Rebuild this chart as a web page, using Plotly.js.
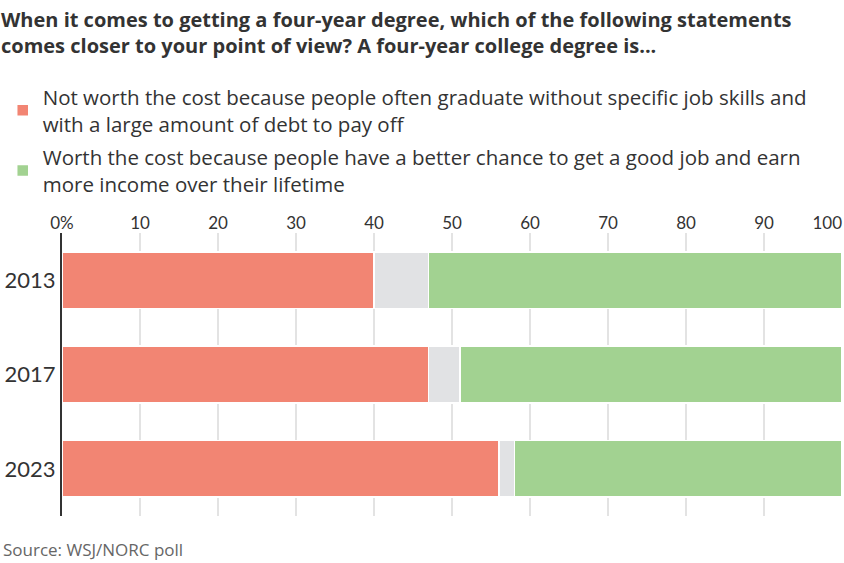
<!DOCTYPE html>
<html>
<head>
<meta charset="utf-8">
<script src="https://cdn.plot.ly/plotly-3.0.1.min.js"></script>
<style>html,body{margin:0;padding:0;background:#fff;}#chart{width:844px;height:563px;}</style>
</head>
<body>
<div id="chart"></div>
<script>
const years = ['2013', '2017', '2023'];
const notWorth = [40, 47, 56];
const noAnswer = [7, 4, 2];
const worth = [53, 49, 42];
const tickVals = [0, 10, 20, 30, 40, 50, 60, 70, 80, 90, 100];
const tickText = ['0%', '10', '20', '30', '40', '50', '60', '70', '80', '90',
  '100<span style="color:rgba(255,255,255,0)">000</span>'];
const nameNot = 'Not worth the cost because people often graduate without specific job skills and<br>with a large amount of debt to pay off';
const nameWorth = 'Worth the cost because people have a better chance to get a good job and earn<br>more income over their lifetime';

const line = {color: '#ffffff', width: 1.5};
const traces = [
  {type: 'bar', orientation: 'h', y: years, x: notWorth, name: nameNot, legendgroup: 'a',
   marker: {color: '#F28573', line: line}, hoverinfo: 'skip'},
  {type: 'bar', orientation: 'h', y: years, x: noAnswer, name: 'No answer', showlegend: false, legendgroup: 'b',
   marker: {color: '#E1E2E4', line: line}, hoverinfo: 'skip'},
  {type: 'bar', orientation: 'h', y: years, x: worth, name: nameWorth, legendgroup: 'c',
   marker: {color: '#A2D291', line: line}, hoverinfo: 'skip'}
];

const layout = {
  width: 844, height: 563,
  margin: {l: 62, r: 2, t: 233, b: 47},
  paper_bgcolor: '#fff', plot_bgcolor: '#fff',
  font: {family: '"Open Sans", sans-serif', color: '#333'},
  barmode: 'stack', bargap: 0.4,
  title: {
    text: '<b>When it comes to getting a four-year degree, which of the following statements<br>comes closer to your point of view? A four-year college degree is...</b>',
    font: {family: '"Open Sans", sans-serif', size: 20, color: '#333'},
    x: 0, xref: 'container', xanchor: 'left',
    y: 0.952, yref: 'container', yanchor: 'top', pad: {l: 1}
  },
  showlegend: true,
  legend: {
    x: -0.076, xanchor: 'left', y: 1.551, yanchor: 'top',
    font: {family: '"Open Sans", sans-serif', size: 20.5, color: '#333'},
    traceorder: 'grouped', tracegroupgap: 4, itemclick: false, itemdoubleclick: false,
    bgcolor: 'rgba(0,0,0,0)'
  },
  xaxis: {
    side: 'top', range: [0, 100], tickvals: tickVals, ticktext: tickText,
    ticklabeloverflow: 'allow',
    showgrid: true, gridcolor: '#E3E3E3', gridwidth: 1.5, zeroline: false,
    showline: false, ticks: '', fixedrange: true,
    tickfont: {family: 'Lato, sans-serif', size: 17, color: '#333'}
  },
  yaxis: {
    type: 'category', autorange: 'reversed', showgrid: false, zeroline: false,
    showline: true, linecolor: '#333', linewidth: 2, ticks: '', fixedrange: true,
    tickfont: {family: 'Lato, sans-serif', size: 22, color: '#333'}
  },
  annotations: [{
    text: 'Source: WSJ/NORC poll', xref: 'paper', yref: 'paper',
    x: -0.078, y: -0.12, xanchor: 'left', yanchor: 'middle', showarrow: false,
    font: {family: '"Open Sans", sans-serif', size: 17, color: '#666'}
  }]
};

Plotly.newPlot('chart', traces, layout, {displayModeBar: false, staticPlot: true});
</script>
</body>
</html>
